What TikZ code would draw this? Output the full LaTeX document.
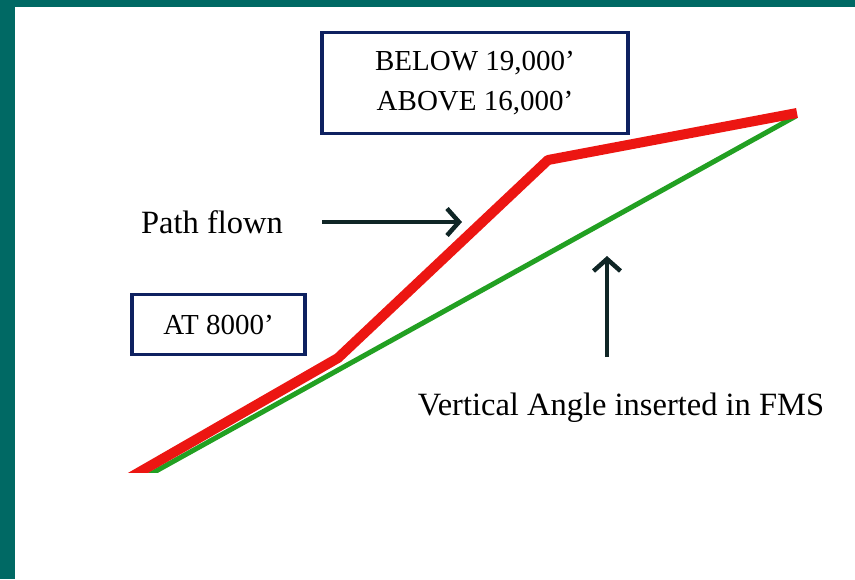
\documentclass[tikz,border=0pt]{standalone}
\usepackage{fontspec}
\setmainfont{Liberation Serif}
\usetikzlibrary{arrows.meta,positioning}
\definecolor{slideteal}{RGB}{0,105,100}
\definecolor{boxnavy}{RGB}{14,33,96}
\definecolor{arrowdark}{RGB}{16,38,38}
\definecolor{pathred}{RGB}{236,22,18}
\definecolor{fmsgreen}{RGB}{34,160,34}

\begin{document}
\begin{tikzpicture}[x=1pt,y=-1pt,
    altbox/.style={draw=boxnavy,line width=3.5pt,fill=white,inner sep=0pt,
      align=center,font=\fontsize{29}{40}\selectfont},
    lbl/.style={font=\fontsize{32.5}{38}\selectfont},
    pointer/.style={draw=arrowdark,line width=4.5pt,
      -{Straight Barb[length=12pt,width=27pt]}}]
  \useasboundingbox (0,0) rectangle (855,579);
  \fill[slideteal] (0,0) rectangle (855,7);
  \fill[slideteal] (0,0) rectangle (15,579);

  % flown path and the FMS angle
  \coordinate (low) at (117,485);
  \coordinate (fix) at (338,358);
  \coordinate (top) at (548,160);
  \coordinate (end) at (797,113);
  \coordinate (glow) at (129,486);
  \coordinate (gend) at (796,116);
  \begin{scope}
    \clip (15,7) rectangle (855,472);
    \draw[fmsgreen,line width=5pt] (glow) -- (gend);
    \draw[pathred,line width=10pt,line join=round] (low) -- (fix) -- (top) -- (end);
  \end{scope}

  \node[altbox,minimum width=306pt,minimum height=101pt] (upper) at (475,83)
    {BELOW 19,000’\\ABOVE 16,000’};
  \node[altbox,minimum width=173pt,minimum height=60pt] (lower) at (218.5,324.5)
    {AT 8000’};

  \node[lbl] (flown) at (212,222) {Path flown};
  \node[lbl] (angle) at (621,408) {Vertical Angle inserted in FMS};

  \coordinate (flownTail) at (322,222);
  \coordinate (flownTip) at (462,222);
  \coordinate (angleTail) at (607,357);
  \coordinate (angleTip) at (607,256);
  \draw[pointer] (flownTail) -- (flownTip);
  \draw[pointer] (angleTail) -- (angleTip);
\end{tikzpicture}
\end{document}
